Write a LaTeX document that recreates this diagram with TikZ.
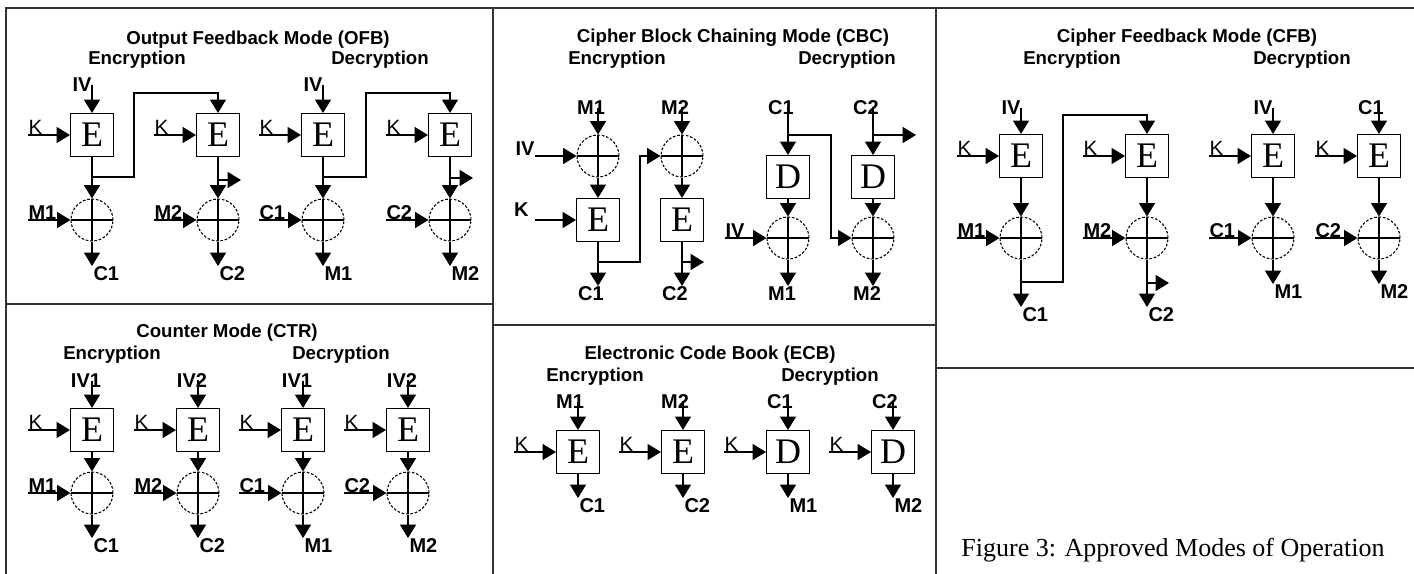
\documentclass[tikz,border=0pt]{standalone}
\usepackage{fontspec}
\setmainfont{Liberation Serif}
\setsansfont{Liberation Sans}
\usetikzlibrary{arrows.meta, positioning, calc}

\begin{document}
\begin{tikzpicture}[x=0.75pt, y=-0.75pt, line width=0.8pt,
    blk/.style={draw, minimum size=32.25pt, inner sep=0pt, font=\fontsize{27}{27}\selectfont},
    xo/.style={circle, draw, dash pattern=on 2pt off 1.3pt, minimum size=31.5pt, inner sep=0pt,
        path picture={\draw[solid] (path picture bounding box.north) -- (path picture bounding box.south)
            (path picture bounding box.west) -- (path picture bounding box.east);}},
    arr/.style={-{Triangle[length=10pt,width=12pt]}},
    lbl/.style={font=\sffamily\bfseries\fontsize{15}{15}\selectfont, inner sep=0pt},
    klbl/.style={font=\sffamily\fontsize{15.5}{15}\selectfont, inner sep=0pt},
    ttl/.style={font=\sffamily\bfseries\fontsize{14}{14}\selectfont, inner sep=0pt},
    frame/.style={line width=1.6pt, black!80}]
    \useasboundingbox (0,0) rectangle (1414,574);

    % Frame
    \draw[frame] (6,574) -- (6,8) -- (1414,8);
    \draw[frame] (493,8) -- (493,574);
    \draw[frame] (936,8) -- (936,574);
    \draw[frame] (6,304) -- (493,304);
    \draw[frame] (493,325) -- (936,325);
    \draw[frame] (936,368) -- (1414,368);

    % Output Feedback Mode
    \node[ttl] (ofbT) at (258,40) {Output Feedback Mode (OFB)};
    \node[ttl] (ofbEnc) at (137,60) {Encryption};
    \node[ttl] (ofbDec) at (380,60) {Decryption};
    \foreach \c/\x/\m/\o in {1/92/M1/C1, 2/218/M2/C2, 3/323/C1/M1, 4/450/C2/M2} {
        \node[blk] (ofbE\c) at (\x,135) {E};
        \node[xo] (ofbX\c) at (\x,220) {};
        \node[klbl, anchor=south west] (ofbK\c) at (\x-64,135) {K};
        \node[lbl, anchor=south west] (ofbM\c) at (\x-64,220) {\m};
        \node[lbl, anchor=north west] (ofbC\c) at (\x+1,266) {\o};
        \draw[arr] (ofbK\c.south west) -- (ofbE\c);
        \draw[arr] (ofbM\c.south west) -- (ofbX\c);
        \draw[arr] (ofbE\c) -- (ofbX\c);
        \draw[arr] (ofbX\c) -- (ofbX\c |- ofbC\c.north);
    }
    \node[lbl, anchor=south] (ofbIV1) at (82,92) {IV};
    \node[lbl, anchor=south] (ofbIV3) at (313,92) {IV};
    \draw[arr] (ofbIV1.east -| ofbE1) -- (ofbE1);
    \draw[arr] (ofbIV3.east -| ofbE3) -- (ofbE3);
    \coordinate (ofbB1) at (92,177);
    \coordinate (ofbF1) at (134,93);
    \coordinate (ofbB2) at (218,180);
    \coordinate (ofbR2) at (241,180);
    \coordinate (ofbB3) at (323,177);
    \coordinate (ofbF3) at (366,93);
    \coordinate (ofbB4) at (450,178);
    \coordinate (ofbR4) at (473,178);
    \draw[arr] (ofbB1) -| (ofbF1) -| (ofbE2);
    \draw[arr] (ofbB3) -| (ofbF3) -| (ofbE4);
    \draw[arr] (ofbB2) -- (ofbR2);
    \draw[arr] (ofbB4) -- (ofbR4);

    % Counter Mode
    \node[ttl] (ctrT) at (227,333) {Counter Mode (CTR)};
    \node[ttl] (ctrEnc) at (112,355) {Encryption};
    \node[ttl] (ctrDec) at (341,355) {Decryption};
    \foreach \c/\x/\i/\m/\o in {1/92/IV1/M1/C1, 2/198/IV2/M2/C2, 3/303/IV1/C1/M1, 4/408/IV2/C2/M2} {
        \node[blk] (ctrE\c) at (\x,430) {E};
        \node[xo] (ctrX\c) at (\x,493) {};
        \node[lbl, anchor=south] (ctrIV\c) at (\x-6,388) {\i};
        \node[klbl, anchor=south west] (ctrK\c) at (\x-64,430) {K};
        \node[lbl, anchor=south west] (ctrM\c) at (\x-64,493) {\m};
        \node[lbl, anchor=north west] (ctrC\c) at (\x+1,538) {\o};
        \draw[arr] (ctrIV\c.east -| ctrE\c) -- (ctrE\c);
        \draw[arr] (ctrK\c.south west) -- (ctrE\c);
        \draw[arr] (ctrM\c.south west) -- (ctrX\c);
        \draw[arr] (ctrE\c) -- (ctrX\c);
        \draw[arr] (ctrX\c) -- (ctrX\c |- ctrC\c.north);
    }

    % Cipher Block Chaining Mode
    \node[ttl] (cbcT) at (733,38) {Cipher Block Chaining Mode (CBC)};
    \node[ttl] (cbcEnc) at (617,60) {Encryption};
    \node[ttl] (cbcDec) at (847,60) {Decryption};
    \foreach \c/\x/\m/\o in {1/598/M1/C1, 2/682/M2/C2} {
        \node[xo] (cbcX\c) at (\x,156) {};
        \node[blk] (cbcE\c) at (\x,220) {E};
        \node[lbl, anchor=south] (cbcM\c) at (\x-7,115) {\m};
        \node[lbl, anchor=north] (cbcC\c) at (\x-7,286) {\o};
        \draw[arr] (cbcM\c.east -| cbcX\c) -- (cbcX\c);
        \draw[arr] (cbcX\c) -- (cbcE\c);
        \draw[arr] (cbcE\c) -- (cbcE\c |- cbcC\c.north);
    }
    \foreach \c/\x/\m/\o in {3/788/C1/M1, 4/873/C2/M2} {
        \node[blk] (cbcE\c) at (\x,177) {D};
        \node[xo] (cbcX\c) at (\x,238) {};
        \node[lbl, anchor=south] (cbcM\c) at (\x-7,115) {\m};
        \node[lbl, anchor=north] (cbcC\c) at (\x-6,286) {\o};
        \draw[arr] (cbcM\c.east -| cbcE\c) -- (cbcE\c);
        \draw[arr] (cbcE\c) -- (cbcX\c);
        \draw[arr] (cbcX\c) -- (cbcX\c |- cbcC\c.north);
    }
    \node[lbl, anchor=south east] (cbcIV1) at (535,156) {IV};
    \node[lbl, anchor=south east] (cbcK1) at (529,217) {K};
    \node[lbl, anchor=south west] (cbcIV3) at (725,238) {IV};
    \coordinate (cbcKs) at (535,220);
    \draw[arr] (cbcIV1.south east) -- (cbcX1);
    \draw[arr] (cbcKs) -- (cbcE1);
    \draw[arr] (cbcIV3.south west) -- (cbcX3);
    \coordinate (cbcB1) at (598,262);
    \coordinate (cbcF1) at (640,156);
    \coordinate (cbcB2) at (682,262);
    \coordinate (cbcR2) at (704,262);
    \coordinate (cbcB3) at (788,135);
    \coordinate (cbcF3) at (831,238);
    \coordinate (cbcB4) at (873,135);
    \coordinate (cbcR4) at (916,135);
    \draw[arr] (cbcB1) -| (cbcF1) -- (cbcX2);
    \draw[arr] (cbcB3) -| (cbcF3) -- (cbcX4);
    \draw[arr] (cbcB2) -- (cbcR2);
    \draw[arr] (cbcB4) -- (cbcR4);

    % Electronic Code Book
    \node[ttl] (ecbT) at (710,355) {Electronic Code Book (ECB)};
    \node[ttl] (ecbEnc) at (595,377) {Encryption};
    \node[ttl] (ecbDec) at (830,377) {Decryption};
    \foreach \c/\x/\f/\m/\o in {1/578/E/M1/C1, 2/683/E/M2/C2, 3/788/D/C1/M1, 4/893/D/C2/M2} {
        \node[blk] (ecbE\c) at (\x,452) {\f};
        \node[lbl, anchor=south] (ecbM\c) at (\x-8,409) {\m};
        \node[klbl, anchor=south west] (ecbK\c) at (\x-64,452) {K};
        \node[lbl, anchor=north west] (ecbC\c) at (\x+1,498) {\o};
        \draw[arr] (ecbM\c.east -| ecbE\c) -- (ecbE\c);
        \draw[arr] (ecbK\c.south west) -- (ecbE\c);
        \draw[arr] (ecbE\c) -- (ecbE\c |- ecbC\c.north);
    }

    % Cipher Feedback Mode
    \node[ttl] (cfbT) at (1187,38) {Cipher Feedback Mode (CFB)};
    \node[ttl] (cfbEnc) at (1072,60) {Encryption};
    \node[ttl] (cfbDec) at (1302,60) {Decryption};
    \foreach \c/\x/\m/\o/\y in {1/1021/M1/C1/307, 2/1147/M2/C2/307, 3/1273/C1/M1/284, 4/1379/C2/M2/284} {
        \node[blk] (cfbE\c) at (\x,156) {E};
        \node[xo] (cfbX\c) at (\x,238) {};
        \node[klbl, anchor=south west] (cfbK\c) at (\x-64,156) {K};
        \node[lbl, anchor=south west] (cfbM\c) at (\x-64,238) {\m};
        \node[lbl, anchor=north west] (cfbC\c) at (\x+1,\y) {\o};
        \draw[arr] (cfbK\c.south west) -- (cfbE\c);
        \draw[arr] (cfbM\c.south west) -- (cfbX\c);
        \draw[arr] (cfbE\c) -- (cfbX\c);
        \draw[arr] (cfbX\c) -- (cfbX\c |- cfbC\c.north);
    }
    \node[lbl, anchor=south] (cfbIV1) at (1011,115) {IV};
    \node[lbl, anchor=south] (cfbIV3) at (1263,115) {IV};
    \node[lbl, anchor=south] (cfbIV4) at (1371,115) {C1};
    \draw[arr] (cfbIV1.east -| cfbE1) -- (cfbE1);
    \draw[arr] (cfbIV3.east -| cfbE3) -- (cfbE3);
    \draw[arr] (cfbIV4.east -| cfbE4) -- (cfbE4);
    \coordinate (cfbB1) at (1021,282);
    \coordinate (cfbF1) at (1063,115);
    \coordinate (cfbB2) at (1147,283);
    \coordinate (cfbR2) at (1169,283);
    \draw[arr] (cfbB1) -| (cfbF1) -| (cfbE2);
    \draw[arr] (cfbB2) -- (cfbR2);

    % Caption
    \node[font=\fontsize{19.5}{20}\selectfont, inner sep=0pt] (cap) at (1173,550) {Figure 3: Approved Modes of Operation};
\end{tikzpicture}
\end{document}
